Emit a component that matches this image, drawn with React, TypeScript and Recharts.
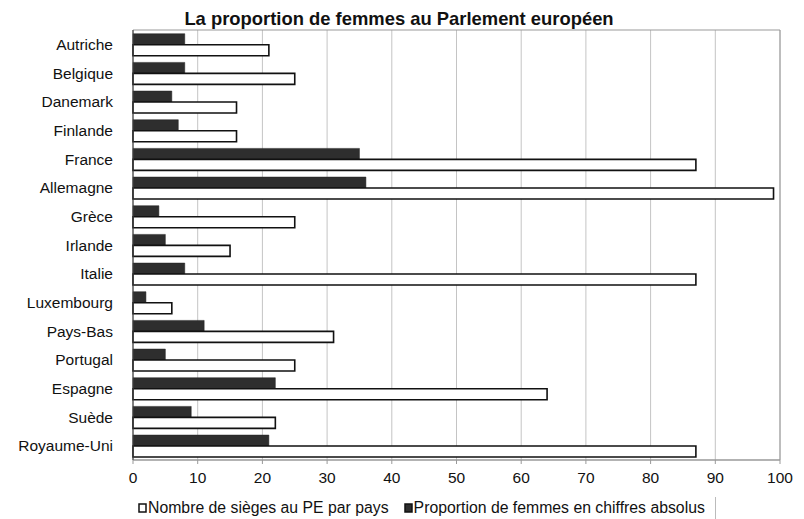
import React from "react";
import {
  BarChart,
  Bar,
  XAxis,
  YAxis,
  CartesianGrid,
  Legend,
  ReferenceArea,
} from "recharts";

const countries = [
  "Autriche",
  "Belgique",
  "Danemark",
  "Finlande",
  "France",
  "Allemagne",
  "Grèce",
  "Irlande",
  "Italie",
  "Luxembourg",
  "Pays-Bas",
  "Portugal",
  "Espagne",
  "Suède",
  "Royaume-Uni",
];

// Seats in the European Parliament per country
const seats = [21, 25, 16, 16, 87, 99, 25, 15, 87, 6, 31, 25, 64, 22, 87];

// Number of women among those seats
const women = [8, 8, 6, 7, 35, 36, 4, 5, 8, 2, 11, 5, 22, 9, 21];

const xTicks = [0, 10, 20, 30, 40, 50, 60, 70, 80, 90, 100];

const seatsLabel = "Nombre de sièges au PE par pays";
const womenLabel = "Proportion de femmes en chiffres absolus";
const title = "La proportion de femmes au Parlement européen";

const data = countries.map((name, i) => ({
  name,
  seats: seats[i],
  women: women[i],
}));

const FONT = "'Liberation Sans', Arial, sans-serif";

function LegendContent() {
  const item = (fill: string, label: string, gapAfter: number) => (
    <span style={{ display: "inline-flex", alignItems: "center", marginRight: gapAfter }}>
      <svg width={9} height={10} style={{ marginRight: 1 }}>
        <rect x={1} y={1} width={7} height={8} fill={fill} stroke="#111" strokeWidth={1.5} />
      </svg>
      <span>{label}</span>
    </span>
  );
  return (
    <div
      style={{
        fontFamily: FONT,
        fontSize: 15.8,
        color: "#111",
        whiteSpace: "nowrap",
        display: "flex",
        alignItems: "center",
        borderRight: "1px solid #bbb",
        paddingRight: 10,
        height: 22,
      }}
    >
      {item("#ffffff", seatsLabel, 15)}
      {item("#2e2e2e", womenLabel, 0)}
    </div>
  );
}

export default function App() {
  return (
    <div
      style={{
        position: "absolute",
        left: 0,
        top: 0,
        width: 804,
        height: 519,
        background: "#fff",
      }}
    >
      <div
        style={{
          position: "absolute",
          left: 0,
          top: 8,
          width: 798,
          textAlign: "center",
          fontFamily: FONT,
          fontWeight: "bold",
          fontSize: 18.4,
          color: "#111",
          lineHeight: "22px",
        }}
      >
        {title}
      </div>
      <BarChart
        width={804}
        height={519}
        data={data}
        layout="vertical"
        margin={{ top: 30, right: 24, bottom: 24, left: 0 }}
        barGap={0}
        barCategoryGap="13%"
      >
        <CartesianGrid horizontal={false} vertical stroke="#c4c4c4" strokeWidth={1} />
        <XAxis
          type="number"
          domain={[0, 100]}
          ticks={xTicks}
          interval={0}
          height={35}
          axisLine={{ stroke: "#999" }}
          tickLine={{ stroke: "#999" }}
          tickSize={4}
          tickMargin={8}
          tick={{ fill: "#111", fontFamily: FONT, fontSize: 15.5 }}
        />
        <YAxis
          type="category"
          dataKey="name"
          width={133}
          axisLine={{ stroke: "#444" }}
          tickLine={false}
          tickMargin={14}
          tick={{ fill: "#111", fontFamily: FONT, fontSize: 15.5 }}
        />
        <ReferenceArea
          x1={0}
          x2={100}
          fill="none"
          stroke="#999"
          strokeWidth={1}
          ifOverflow="visible"
        />
        <Bar
          dataKey="women"
          name={womenLabel}
          fill="#2e2e2e"
          stroke="#222"
          strokeWidth={0.5}
          isAnimationActive={false}
        />
        <Bar
          dataKey="seats"
          name={seatsLabel}
          fill="#ffffff"
          stroke="#111"
          strokeWidth={1.6}
          isAnimationActive={false}
        />
        <Legend
          layout="horizontal"
          align="center"
          verticalAlign="middle"
          content={LegendContent}
          wrapperStyle={{ position: "absolute", top: 497, left: 138, width: "auto" }}
        />
      </BarChart>
    </div>
  );
}
